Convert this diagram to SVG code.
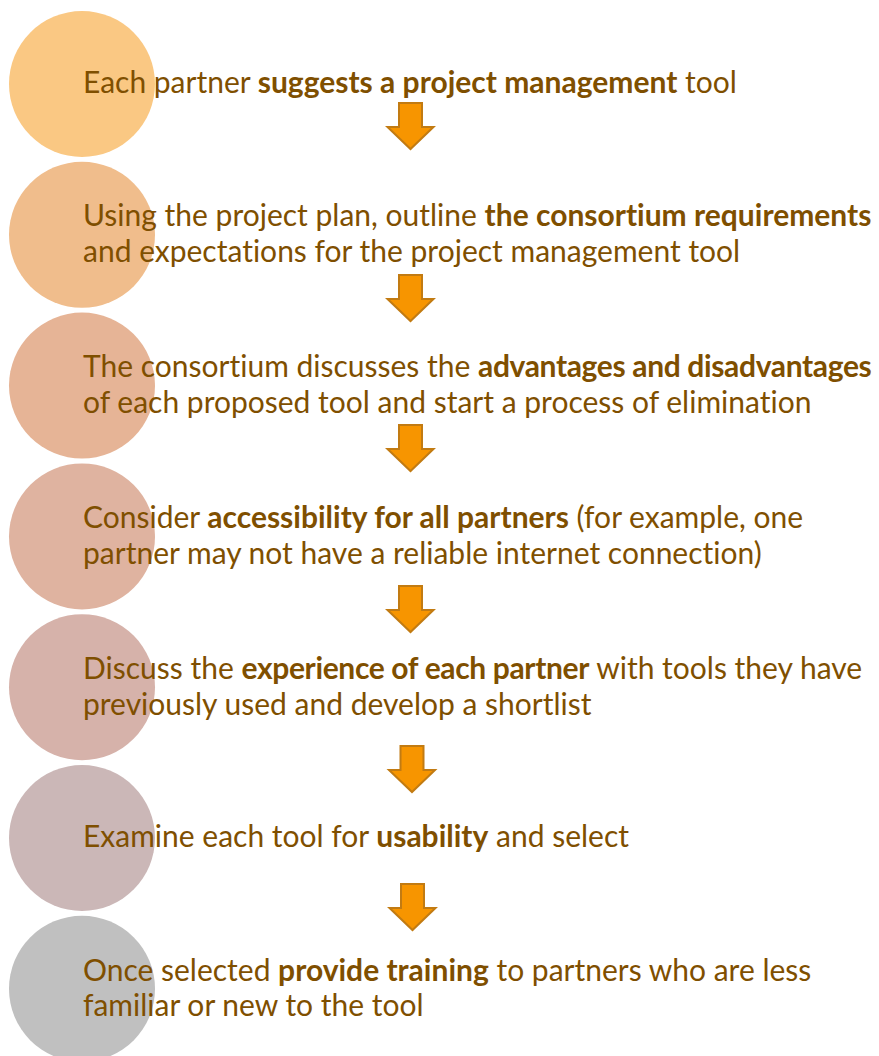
<svg xmlns="http://www.w3.org/2000/svg" width="879" height="1056" viewBox="0 0 879 1056">
<defs>
<style>
.t{font-family:Lato,"Liberation Sans",sans-serif;font-size:30px;fill:#7F4F00;font-variant-ligatures:none;font-feature-settings:"liga" 0,"clig" 0;}
.b{font-weight:bold;}
.tight{letter-spacing:-0.35px;}
.arrow{fill:#F79500;stroke:#C27B12;stroke-width:2;stroke-linejoin:miter;}
</style>
<path id="arw" d="M-11.5,0 H11.5 V24 H23 L0,46 L-23,24 H-11.5 Z"/>
</defs>
<rect width="879" height="1056" fill="#FFFFFF"/>
<g id="node1">
<circle cx="82" cy="84" r="73" fill="#FAC883"/>
<text class="t" x="83" y="93">Each partner <tspan class="b">suggests a project management</tspan> tool</text>
</g>
<g id="node2">
<circle cx="82" cy="234.8" r="73" fill="#F0BD8C"/>
<text class="t" x="83" y="226">Using the project plan, outline <tspan class="b">the consortium requirements</tspan></text>
<text class="t" x="83" y="262">and expectations for the project management tool</text>
</g>
<g id="node3">
<circle cx="82" cy="385.6" r="73" fill="#E6B496"/>
<text class="t" x="83" y="377">The consortium discusses the <tspan class="b tight">advantages and disadvantages</tspan></text>
<text class="t" x="83" y="413">of each proposed tool and start a process of elimination</text>
</g>
<g id="node4">
<circle cx="82" cy="536.4" r="73" fill="#DFB3A0"/>
<text class="t" x="83" y="528">Consider <tspan class="b">accessibility for all partners</tspan> (for example, one</text>
<text class="t" x="83" y="564">partner may not have a reliable internet connection)</text>
</g>
<g id="node5">
<circle cx="82" cy="687.2" r="73" fill="#D6B2AA"/>
<text class="t" x="83" y="679">Discuss the <tspan class="b tight">experience of each partner</tspan> with tools they have</text>
<text class="t" x="83" y="715">previously used and develop a shortlist</text>
</g>
<g id="node6">
<circle cx="82" cy="838" r="73" fill="#CBB7B7"/>
<text class="t" x="83" y="847">Examine each tool for <tspan class="b">usability</tspan> and select</text>
</g>
<g id="node7">
<circle cx="82" cy="988.8" r="73" fill="#C0C0C0"/>
<text class="t" x="83" y="981">Once selected <tspan class="b">provide training</tspan> to partners who are less</text>
<text class="t" x="83" y="1016">familiar or new to the tool</text>
</g>
<g id="connectors">
<use href="#arw" class="arrow" transform="translate(410.5,103)"/>
<use href="#arw" class="arrow" transform="translate(410.5,275)"/>
<use href="#arw" class="arrow" transform="translate(410.5,425)"/>
<use href="#arw" class="arrow" transform="translate(410.5,586)"/>
<use href="#arw" class="arrow" transform="translate(412,746)"/>
<use href="#arw" class="arrow" transform="translate(412.5,884)"/>
</g>
</svg>
